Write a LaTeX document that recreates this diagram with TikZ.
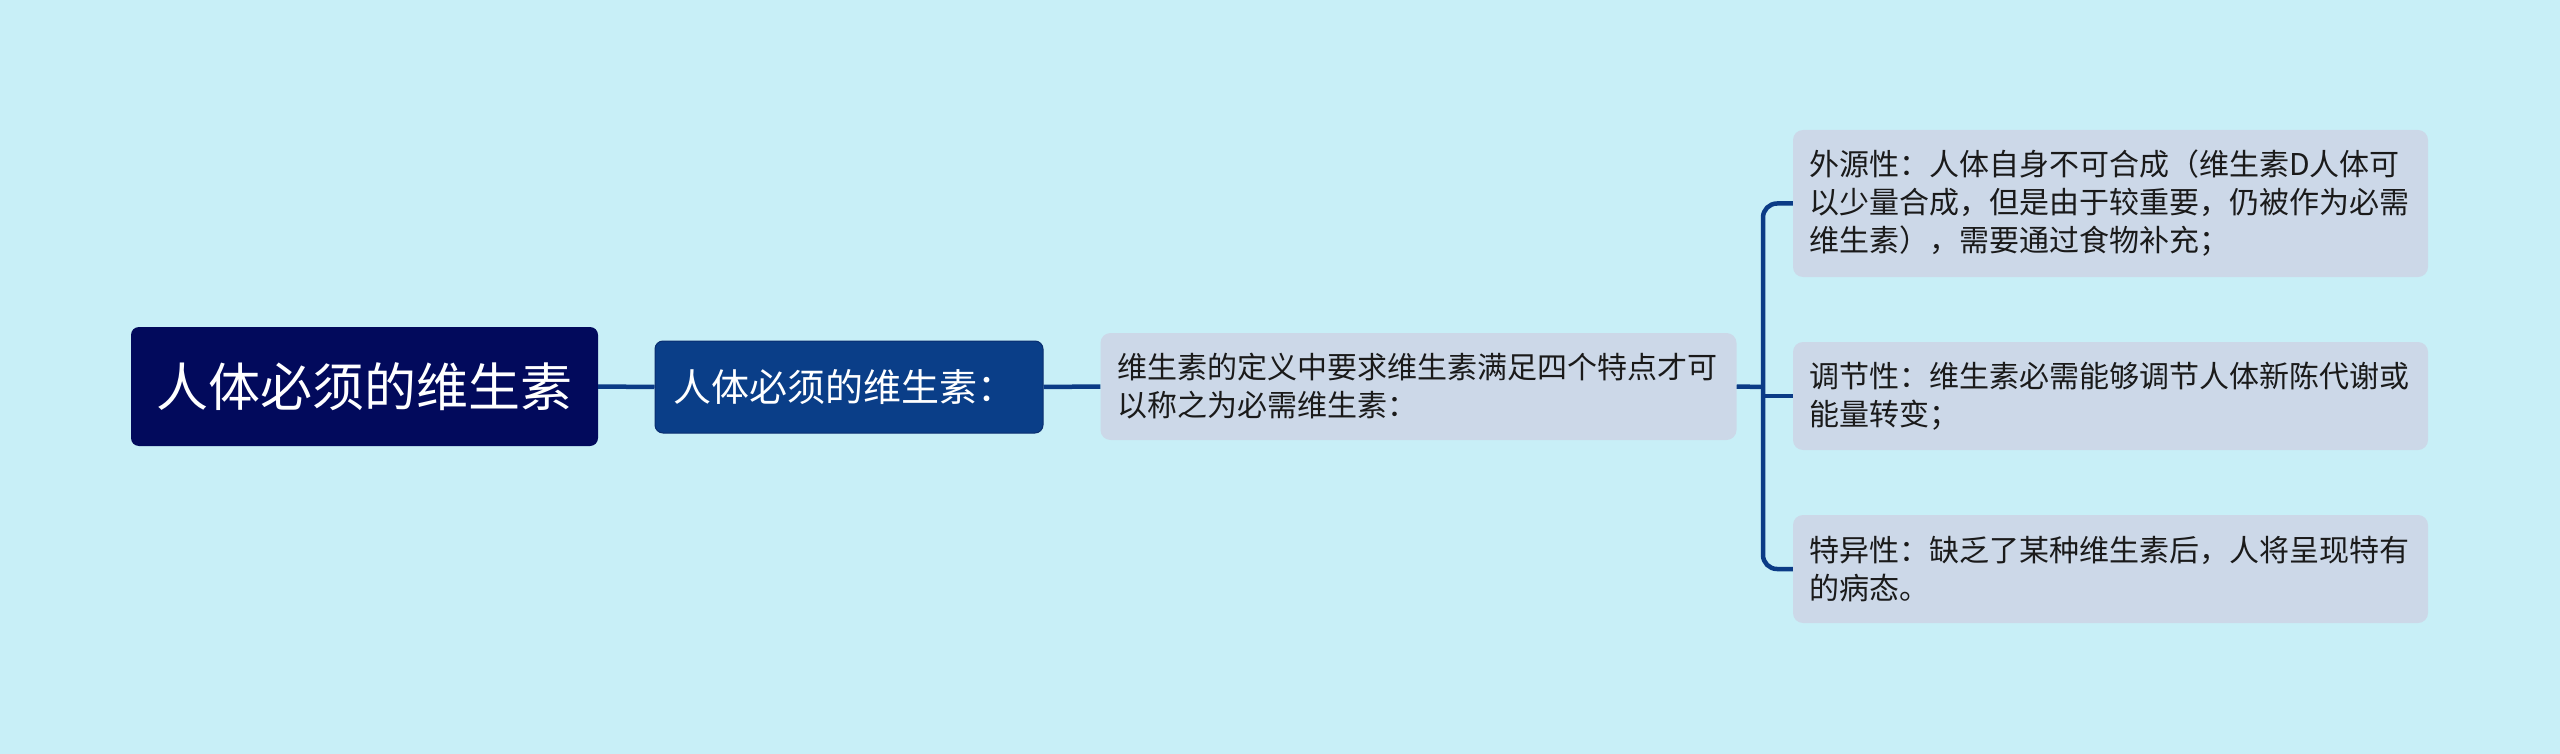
\documentclass[tikz,border=0pt]{standalone}
\usepackage{fontspec}
\newfontfamily\cjk{Noto Sans CJK SC}
\definecolor{bgc}{HTML}{C8EFF7}
\definecolor{rootc}{HTML}{020A5C}
\definecolor{secc}{HTML}{0A3E88}
\definecolor{secb}{HTML}{0A2E70}
\definecolor{leafc}{HTML}{CCD8E8}
\definecolor{connc}{HTML}{0B3B86}
\definecolor{txtc}{HTML}{1A1A1A}
\tikzset{
  rootbox/.style={fill=rootc, rounded corners=8pt, text=white, minimum width=467pt, minimum height=119pt, inner xsep=20pt, text width=427pt, align=center, font=\cjk\fontsize{52}{60}\selectfont},
  secbox/.style={fill=secc, draw=secb, line width=1pt, rounded corners=8pt, text=white, minimum width=388pt, minimum height=92pt, inner xsep=18pt, text width=352pt, align=left, font=\cjk\fontsize{38}{44}\selectfont},
  leafbox/.style={fill=leafc, rounded corners=10pt, text=txtc, minimum width=635pt, inner xsep=16pt, text width=603pt, align=left, font=\cjk\fontsize{30}{38}\selectfont},
  conn/.style={draw=connc, line width=4.5pt},
}
\begin{document}
\begin{tikzpicture}[x=1pt,y=-1pt]
\fill[bgc] (0,0) rectangle (2560,754);
\useasboundingbox (0,0) rectangle (2560,754);
\node[rootbox] (root) at (364.5,386.5) {人体必须的维生素};
\node[secbox] (sec) at (849,387) {人体必须的维生素：};
\node[leafbox, minimum height=107pt, inner xsep=17pt, text width=602pt] (third) at (1418.5,386.5) {维生素的定义中要求维生素满足四个特点才可\\以称之为必需维生素：};
\node[leafbox, minimum height=147pt] (leafa) at (2110.5,203.5) {外源性：人体自身不可合成（维生素D人体可\\以少量合成，但是由于较重要，仍被作为必需\\维生素），需要通过食物补充；};
\node[leafbox, minimum height=108pt] (leafb) at (2110.5,396) {调节性：维生素必需能够调节人体新陈代谢或\\能量转变；};
\node[leafbox, minimum height=108pt] (leafc) at (2110.5,569) {特异性：缺乏了某种维生素后，人将呈现特有\\的病态。};
\coordinate (fork) at (1763,387);
\draw[conn] (root.east) -- (sec.west);
\draw[conn] (sec.east) -- (third.west);
\draw[conn] (third.east) -- (fork);
\draw[conn, rounded corners=14pt] (leafa.west) -| (fork) |- (leafc.west);
\draw[conn] (leafb.west) -- (leafb.west -| fork);
\end{tikzpicture}
\end{document}
